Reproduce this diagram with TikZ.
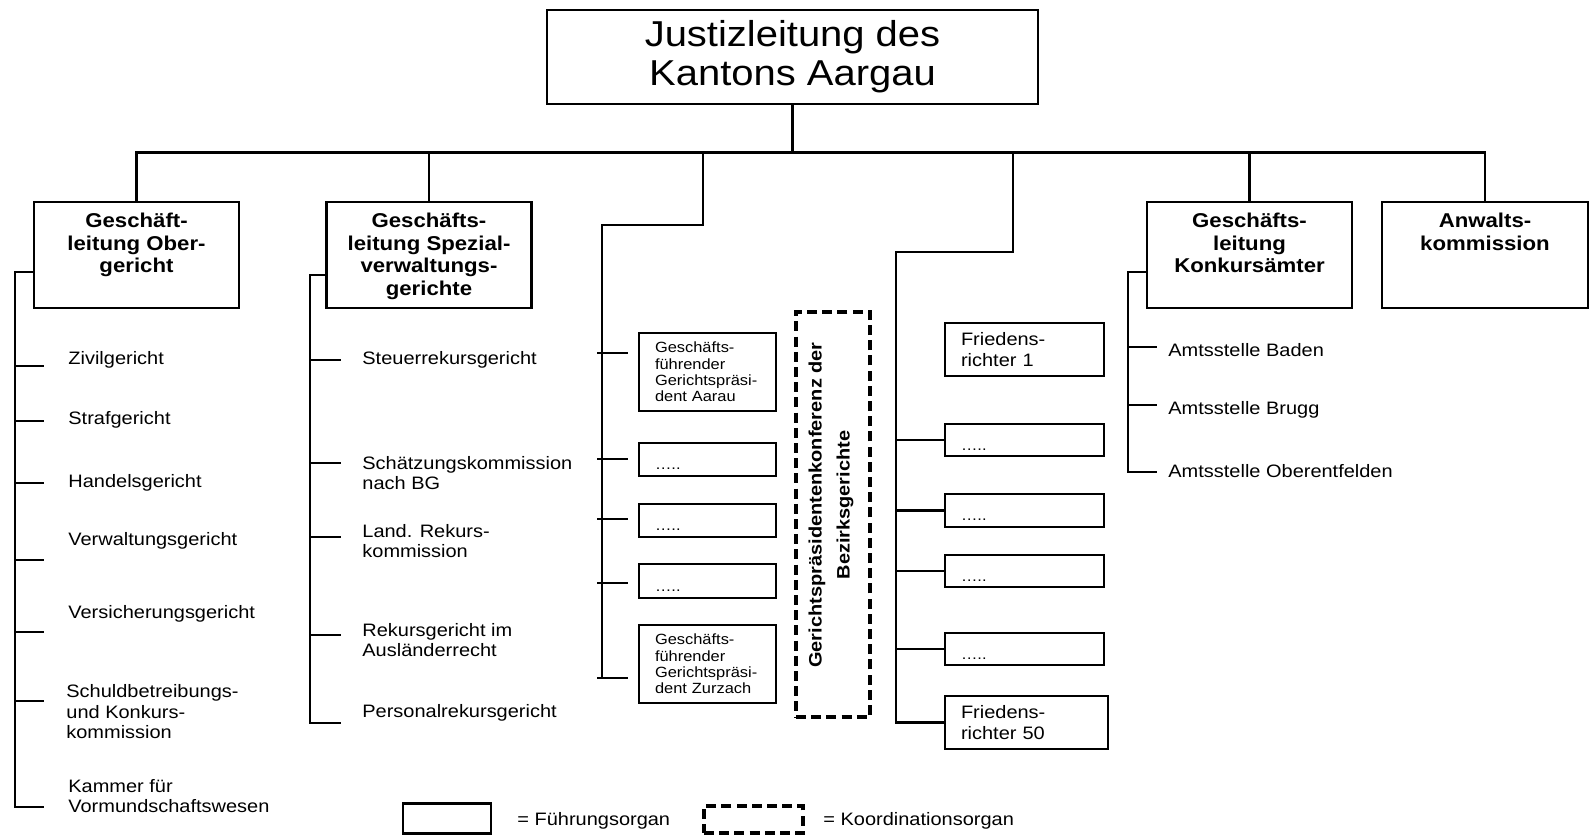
\documentclass[tikz,border=0pt]{standalone}
\usepackage{fontspec}
\setmainfont[FakeStretch=1.11]{Liberation Sans}
\usepackage{tikz}
\usetikzlibrary{
  positioning,
}
\newcommand\orgtitlefont{\fontsize{18}{19.5}\selectfont}
\newcommand\orgheadfont{\fontsize{10}{11.25}\selectfont\bfseries}
\newcommand\orgitemfont{\fontsize{9}{10.25}\selectfont}
\newcommand\orgsmallfont{\fontsize{7.4}{8.15}\selectfont}
\newcommand\orgvertfont{\fontsize{9}{14}\selectfont\bfseries}
\tikzset{
  conn/.style={line width=1.3pt},
  orgbox/.style={draw, line width=1.3pt, inner sep=0pt},
  headbox/.style={orgbox, minimum width=102.5pt, minimum height=53pt},
  headtext/.style={anchor=north, align=center, inner sep=0pt, font=\orgheadfont},
  item/.style={anchor=west, align=left, inner sep=0pt, font=\orgitemfont},
  bzbox/.style={draw, line width=1.3pt, inner xsep=8pt, inner ysep=0pt,
    text width=52.5pt, align=left, font=\orgsmallfont},
  frbox/.style={draw, line width=1.3pt, inner xsep=8pt, inner ysep=0pt,
    text width=63.5pt, align=left, font=\orgitemfont},
  dotbox/.style={text height=10pt, text depth=0pt, font=\orgsmallfont},
  koord/.style={draw, line width=1.7pt, dash pattern=on 5pt off 2.6pt, inner sep=0pt},
}

\begin{document}
\begin{tikzpicture}[x=0.5pt, y=-0.5pt]
  \useasboundingbox (0, 0) rectangle (1590, 835);
  \fill [white] (0, 0) rectangle (1590, 835);

  % Justizleitung
  \node [orgbox, minimum width=245.5pt, minimum height=47pt, align=center,
    font=\orgtitlefont] (jl) at (792.5, 57) {Justizleitung des\\Kantons Aargau};

  % Geschaeftsleitungen
  \node [headbox] (ob) at (136.5, 255) {};
  \node [headbox] (sv) at (429, 255) {};
  \node [headbox] (gk) at (1249.5, 255) {};
  \node [headbox, minimum width=103pt] (ak) at (1485, 255) {};
  \node [headtext] (ob-t) at (136.5, 213) {Geschäft-\\leitung Ober-\\gericht};
  \node [headtext] (sv-t) at (429, 213) {Geschäfts-\\leitung Spezial-\\verwaltungs-\\gerichte};
  \node [headtext] (gk-t) at (1249.5, 213) {Geschäfts-\\leitung\\Konkursämter};
  \node [headtext] (ak-t) at (1485, 213) {Anwalts-\\kommission};

  \coordinate (bus) at (792.5, 154);
  \coordinate (bz-top) at (703, 154);
  \coordinate (fr-top) at (1013, 154);
  \draw [conn] (ob.north) -- ++(0, -48) -| (ak.north);
  \draw [conn] (jl.south) -- (bus);
  \draw [conn] (sv.north) -- (sv.north |- bus);
  \draw [conn] (gk.north) -- (gk.north |- bus);

  % Obergericht
  \node [item] (zivil) at (68, 360) {Zivilgericht};
  \node [item] (straf) at (68, 420) {Strafgericht};
  \node [item] (handel) at (68, 483) {Handelsgericht};
  \node [item] (verw) at (68, 541) {Verwaltungsgericht};
  \node [item] (vers) at (68, 614) {Versicherungsgericht};
  \node [item] (skk) at (66, 712) {Schuldbetreibungs-\\und Konkurs-\\kommission};
  \node [item] (kammer) at (68, 796) {Kammer für\\Vormundschaftswesen};
  \draw [conn] ([yshift=-8.5pt]ob.west) -| (15, 807) -- (44, 807);
  \foreach \y in {366, 421, 483, 560, 632, 701}
  {
    \draw [conn] (15, \y) -- (44, \y);
  }

  % Spezialverwaltungsgerichte
  \node [item] (steuer) at (362, 360) {Steuerrekursgericht};
  \node [item] (schaetz) at (362, 473) {Schätzungskommission\\nach BG};
  \node [item] (land) at (362, 541) {Land. Rekurs-\\kommission};
  \node [item] (rekurs) at (362, 640) {Rekursgericht im\\Ausländerrecht};
  \node [item] (personal) at (362, 713) {Personalrekursgericht};
  \draw [conn] ([yshift=-10pt]sv.west) -| (310, 723) -- (341, 723);
  \foreach \y in {360, 463, 537, 635}
  {
    \draw [conn] (310, \y) -- (341, \y);
  }

  % Bezirksgerichte
  \node [bzbox, minimum height=39pt] (aarau) at (707.5, 372)
    {Geschäfts-\\führender\\Gerichtspräsi-\\dent Aarau};
  \node [bzbox, dotbox, minimum height=16.5pt] (bz2) at (707.5, 459.5) {…..};
  \node [bzbox, dotbox, minimum height=16.5pt] (bz3) at (707.5, 520.5) {…..};
  \node [bzbox, dotbox, minimum height=17pt] (bz4) at (707.5, 581) {…..};
  \node [bzbox, minimum height=39pt] (zurzach) at (707.5, 664)
    {Geschäfts-\\führender\\Gerichtspräsi-\\dent Zurzach};
  \draw [conn] (bz-top) |- (602, 225) -- (602, 678);
  \foreach \y in {353, 459, 519, 583, 678}
  {
    \draw [conn] (597, \y) -- (628, \y);
  }

  % Gerichtspraesidentenkonferenz
  \node [koord, minimum width=37pt, minimum height=202.5pt] (gpk) at (833, 514.5) {};
  \node [rotate=90, align=center, inner sep=0pt, font=\orgvertfont] (gpk-t) at (831, 505)
    {Gerichtspräsidentenkonferenz der\\Bezirksgerichte};

  % Friedensrichter
  \node [frbox, minimum height=26.5pt] (fr1) at (1024.5, 349.5) {Friedens-\\richter 1};
  \node [frbox, dotbox, minimum height=16pt] (fr2) at (1024.5, 440) {…..};
  \node [frbox, dotbox, minimum height=16.5pt] (fr3) at (1024.5, 510.5) {…..};
  \node [frbox, dotbox, minimum height=16pt] (fr4) at (1024.5, 571) {…..};
  \node [frbox, dotbox, minimum height=16pt] (fr5) at (1024.5, 649) {…..};
  \node [frbox, minimum height=26.5pt, text width=65.5pt] (fr50) at (1026.5, 722.5)
    {Friedens-\\richter 50};
  \coordinate (fr-trunk) at (896, 252);
  \draw [conn] (fr-top) |- (fr-trunk) |- (fr50.west);
  \foreach \n in {fr2, fr3, fr4, fr5}
  {
    \draw [conn] (\n.west -| fr-trunk) -- (\n.west);
  }

  % Konkursaemter
  \node [item] (baden) at (1168, 350) {Amtsstelle Baden};
  \node [item] (brugg) at (1168, 410) {Amtsstelle Brugg};
  \node [item] (oberentf) at (1168, 471) {Amtsstelle Oberentfelden};
  \draw [conn] ([yshift=-8.5pt]gk.west) -| (1128, 472) -- (1157, 472);
  \foreach \y in {347, 405}
  {
    \draw [conn] (1128, \y) -- (1157, \y);
  }

  % Legende
  \node [orgbox, minimum width=44pt, minimum height=15pt] (leg-f) at (447, 818.5) {};
  \node [item] (leg-ft) at (517, 821) {= Führungsorgan};
  \node [koord, minimum width=49.5pt, minimum height=13.5pt] (leg-k) at (753.5, 819.5) {};
  \node [item] (leg-kt) at (823, 821) {= Koordinationsorgan};
\end{tikzpicture}
\end{document}
